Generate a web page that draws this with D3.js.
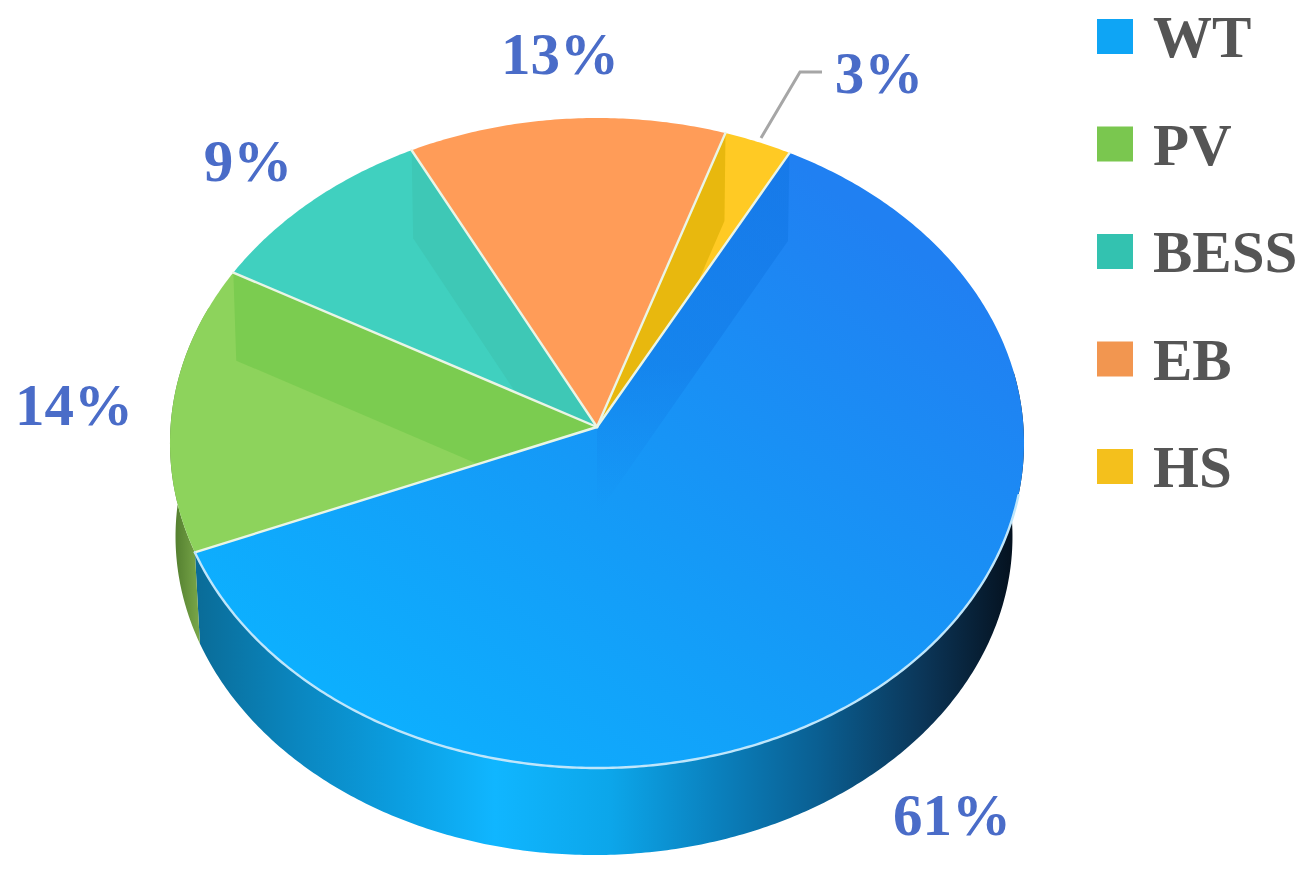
<!DOCTYPE html>
<html>
<head>
<meta charset="utf-8">
<script src="https://cdn.jsdelivr.net/npm/d3@7"></script>
<style>
  html, body { margin: 0; background: #fff; }
  svg { display: block; filter: blur(0.5px); }
  text { font-family: "Liberation Serif", serif; font-weight: bold; }
</style>
</head>
<body>
<svg id="chart" width="1312" height="876"></svg>
<script>
const categories = ["WT", "PV", "BESS", "EB", "HS"];
const shares = [61, 14.3, 9.4, 12.6, 2.7];
const pctLabels = ["61%", "14%", "9%", "13%", "3%"];
const topColors = ["url(#wtTop)", "#8dd35c", "#40d0bf", "#ff9c58", "#ffca24"];
const legendColors = ["url(#wtKey)", "#7ac74f", "#33c2b0", "#f29650", "#f4c01c"];

// where the percent labels sit, same order as categories
const labelPos = [[952, 835], [74, 425], [248, 181], [560, 74], [879, 93]];

const svg = d3.select("#chart");
const defs = svg.append("defs");

// pie is tilted with a bit of perspective, so project the disc by hand
const cx = 597, cy = 427, R = 426.5, S = 324.2, persp = 0.0492;
const project = (a, r = 1) => {
  const u = r * Math.sin(a), v = r * Math.cos(a), w = 1 + persp * v;
  return [cx + R * u / w, cy - S * v / w];
};
// bottom of the slab, sides converge slightly downwards
const shrink = 0.98, vanishY = 5120;
const drop = p => [cx - 3 + shrink * (p[0] - cx), vanishY + shrink * (p[1] - vanishY)];
// the shading inside the top face drops almost straight
const bandDrop = p => [cx + 0.992 * (p[0] - cx), p[1] + 88];

const line = d3.line();
const arcPts = (a0, a1) => {
  const n = Math.max(2, Math.ceil((a1 - a0) / 0.01));
  return d3.range(n + 1).map(i => project(a0 + (a1 - a0) * i / n));
};

const pie = d3.pie().sort(null)
  .startAngle(28.1 * Math.PI / 180)
  .endAngle(28.1 * Math.PI / 180 + 2 * Math.PI);
const slices = pie(shares);

const grad = (id, x1, y1, x2, y2, stops) => {
  const g = defs.append("linearGradient").attr("id", id)
    .attr("gradientUnits", "userSpaceOnUse")
    .attr("x1", x1).attr("y1", y1).attr("x2", x2).attr("y2", y2);
  stops.forEach(s => g.append("stop").attr("offset", s[0])
    .attr("stop-color", s[1]).attr("stop-opacity", s[2] === undefined ? 1 : s[2]));
};
grad("wtTop", 820, 180, 380, 780, [[0, "#2080f2"], [0.5, "#1599f7"], [1, "#0cb2ff"]]);
grad("wtKey", 1133, 19, 1097, 54, [[0, "#1a7fe8"], [1, "#0ea5f5"]]);
grad("wtSide", 197, 0, 1024, 0, [
  [0, "#0a6c98"], [0.12, "#0a86bf"], [0.25, "#0b9fe2"], [0.36, "#10b6ff"],
  [0.5, "#0ca6ea"], [0.63, "#0a80bd"], [0.75, "#0a5f92"], [0.88, "#0b3557"], [1, "#040d18"]
]);
grad("pvSide", 172, 0, 200, 0, [[0, "#4f7a2c"], [1, "#7aa84a"]]);
grad("wtBand", 0, 150, 0, 510, [[0, "#0f74e2", 0.55], [0.6, "#0f74e2", 0.4], [1, "#0f80e8", 0]]);

// side wall, only the front part shows
const front0 = 80 * Math.PI / 180, front1 = 292 * Math.PI / 180;
const sideFill = ["url(#wtSide)", "url(#pvSide)"];
svg.append("g").selectAll("path")
  .data(slices.slice(0, 2))
  .join("path")
  .attr("fill", (d, i) => sideFill[i])
  .attr("d", d => {
    const top = arcPts(Math.max(d.startAngle, front0), Math.min(d.endAngle, front1));
    return line(top.concat(top.map(drop).reverse())) + "Z";
  });

const wedge = d => line([project(0, 0)].concat(arcPts(d.startAngle, d.endAngle))) + "Z";

svg.append("g").selectAll("path")
  .data(slices)
  .join("path")
  .attr("fill", (d, i) => topColors[i])
  .attr("d", wedge);

// darker band seen through the top: far radial wall of each slice
const bands = [
  { slice: 0, edge: slices[0].startAngle, fill: "url(#wtBand)" },
  { slice: 4, edge: slices[4].startAngle, fill: "#e8b80e" },
  { slice: 2, edge: slices[2].endAngle, fill: "#3ec8b6" },
  { slice: 1, edge: slices[1].endAngle, fill: "#7bcc50" }
];
bands.forEach((b, i) => {
  defs.append("clipPath").attr("id", "clip" + i)
    .append("path").attr("d", wedge(slices[b.slice]));
  const rim = project(b.edge), apex = project(0, 0);
  svg.append("path")
    .attr("clip-path", `url(#clip${i})`)
    .attr("fill", b.fill)
    .attr("d", line([rim, bandDrop(rim), bandDrop(apex), apex]) + "Z");
});

// pale dividers between slices and along the front rim
const edges = svg.append("g")
  .attr("fill", "none")
  .attr("stroke-linecap", "round");
edges.selectAll("path")
  .data(slices)
  .join("path")
  .attr("stroke", "#eaf5e6")
  .attr("stroke-width", 2.4)
  .attr("d", d => line([project(d.startAngle), project(0, 0)]));
edges.append("path")
  .attr("stroke", "#bfe6fb")
  .attr("stroke-width", 2.4)
  .attr("d", line(arcPts(102 * Math.PI / 180, slices[0].endAngle)));

// leader line for the 3% label
svg.append("path")
  .attr("d", line([[761, 138], [800, 72], [822, 72]]))
  .attr("fill", "none")
  .attr("stroke", "#a6a6a6")
  .attr("stroke-width", 3);

svg.append("g").selectAll("text")
  .data(pctLabels)
  .join("text")
  .attr("x", (d, i) => labelPos[i][0])
  .attr("y", (d, i) => labelPos[i][1])
  .attr("text-anchor", "middle")
  .attr("font-size", 59)
  .attr("fill", "#4a6cc8")
  .text(d => d);

// legend
const legendY = d3.scalePoint().domain(categories).range([19, 449]);
const legend = svg.append("g").selectAll("g")
  .data(categories)
  .join("g")
  .attr("transform", d => `translate(1097,${legendY(d)})`);
legend.append("rect")
  .attr("width", 36)
  .attr("height", 35)
  .attr("fill", (d, i) => legendColors[i]);
legend.append("text")
  .attr("x", 56)
  .attr("y", 38)
  .attr("font-size", 59)
  .attr("fill", "#555555")
  .text(d => d);
</script>
</body>
</html>
